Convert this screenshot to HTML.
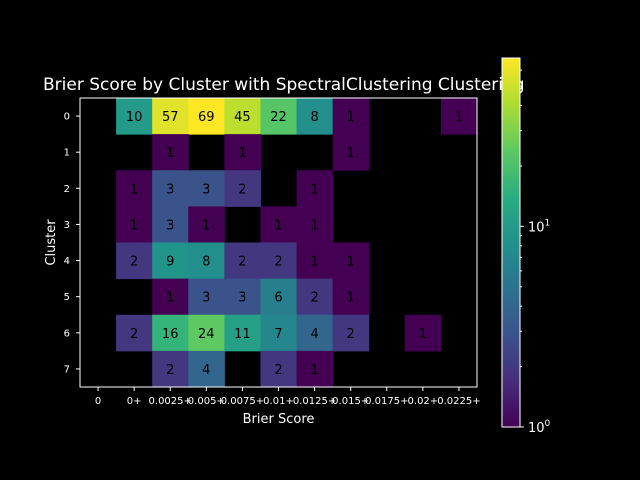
<!DOCTYPE html>
<html><head><meta charset="utf-8"><style>
html,body{margin:0;padding:0;background:#000;}
svg{display:block;font-family:"DejaVu Sans","Liberation Sans",sans-serif;}
</style></head><body>
<svg id="chart" width="640" height="480" viewBox="0 0 640 480">
<rect width="640" height="480" fill="#000"/>
<text x="43" y="90" fill="#fff" font-size="17">Brier Score by Cluster with SpectralClustering Clustering</text>
<g id="cells"></g>
<g id="xticks"></g>
<g id="yticks"></g>
<text x="278.5" y="423" fill="#fff" font-size="13" text-anchor="middle">Brier Score</text>
<text x="0" y="0" fill="#fff" font-size="13" text-anchor="middle" transform="translate(55,242.5) rotate(-90)">Cluster</text>
<g id="cbar"></g>
</svg>
<script>
const xLabels = ["0","0+","0.0025+","0.005+","0.0075+","0.01+","0.0125+","0.015+","0.0175+","0.02+","0.0225+"];
const yLabels = ["0","1","2","3","4","5","6","7"];
const row0 = [null,10,57,69,45,22,8,1,null,null,1];
const row1 = [null,null,1,null,1,null,null,1,null,null,null];
const row2 = [null,1,3,3,2,null,1,null,null,null,null];
const row3 = [null,1,3,1,null,1,1,null,null,null,null];
const row4 = [null,2,9,8,2,2,1,1,null,null,null];
const row5 = [null,null,1,3,3,6,2,1,null,null,null];
const row6 = [null,2,16,24,11,7,4,2,null,1,null];
const row7 = [null,null,2,4,null,2,1,null,null,null,null];
const counts = [row0,row1,row2,row3,row4,row5,row6,row7];
const vmin = 1, vmax = 69;

const NS="http://www.w3.org/2000/svg";
const X0=80,X1=477,Y0=98,Y1=387;
const cw=(X1-X0)/xLabels.length, ch=(Y1-Y0)/yLabels.length;
const xs=i=>X0+i*cw, ys=j=>Y0+j*ch;
const stops=["#440154","#472d7b","#3b528b","#2c728e","#21918c","#28ae80","#5ec962","#addc30","#fde725"];
function hex(h){return [1,3,5].map(k=>parseInt(h.substr(k,2),16));}
function viridis(t){t=Math.max(0,Math.min(1,t));const p=t*(stops.length-1);const i=Math.min(Math.floor(p),stops.length-2);const f=p-i;const a=hex(stops[i]),b=hex(stops[i+1]);return "rgb("+a.map((v,k)=>Math.round(v+(b[k]-v)*f)).join(",")+")";}
const norm=v=>Math.log(v/vmin)/Math.log(vmax/vmin);
function el(tag,attrs,parent,txt){const e=document.createElementNS(NS,tag);for(const k in attrs)e.setAttribute(k,attrs[k]);if(txt!==undefined)e.textContent=txt;parent.appendChild(e);return e;}

const cells=document.getElementById("cells");
el("rect",{x:X0,y:Y0,width:X1-X0,height:Y1-Y0,fill:"#000"},cells);
counts.forEach((row,j)=>row.forEach((v,i)=>{
  if(v===null)return;
  const r=el("rect",{x:xs(i),y:ys(j),width:cw+0.5,height:ch+0.5,fill:viridis(norm(v))},cells);
  
  
  const t=el("text",{x:xs(i)+cw/2,y:ys(j)+ch/2+5,"text-anchor":"middle","font-size":"13",fill:"#000"},cells,String(v));
  
  
}));
el("rect",{x:X0,y:Y0,width:X1-X0,height:Y1-Y0,fill:"none",stroke:"#fff","stroke-width":1},cells);

const xt=document.getElementById("xticks");
xLabels.forEach((l,i)=>{const c=xs(i)+cw/2;
  el("line",{x1:c,x2:c,y1:Y1,y2:Y1+4,stroke:"#fff"},xt);
  const t=el("text",{x:c,y:Y1+17,"text-anchor":"middle","font-size":"10",fill:"#fff"},xt,l);
  
  
});
const yt=document.getElementById("yticks");
yLabels.forEach((l,j)=>{const c=ys(j)+ch/2;
  el("line",{x1:X0-4,x2:X0,y1:c,y2:c,stroke:"#fff"},yt);
  const t=el("text",{x:X0-10,y:c+3.5,"text-anchor":"end","font-size":"10",fill:"#fff"},yt,l);
  
  
});

const cb=document.getElementById("cbar");
const CX0=502,CX1=520,CY0=58,CY1=427;
const defs=el("defs",{},cb);
const g=el("linearGradient",{id:"vg",x1:0,y1:1,x2:0,y2:0},defs);
stops.forEach((s,k)=>el("stop",{offset:k/(stops.length-1),"stop-color":s},g));
el("rect",{x:CX0,y:CY0,width:CX1-CX0,height:CY1-CY0,fill:"url(#vg)",stroke:"#fff","stroke-width":1},cb);
const cy=v=>CY1-norm(v)*(CY1-CY0);
[2,3,4,5,6,7,8,9,20,30,40,50,60].forEach(v=>el("line",{x1:CX1,x2:CX1+2,y1:cy(v),y2:cy(v),stroke:"#fff"},cb));
[[1,"0"],[10,"1"]].forEach(([v,e])=>{
  el("line",{x1:CX1,x2:CX1+4,y1:cy(v),y2:cy(v),stroke:"#fff"},cb);
  const t=el("text",{x:CX1+8,y:cy(v)+5,"font-size":"13",fill:"#fff"},cb,"10");
  
  
  el("tspan",{dy:-6,"font-size":"9"},t,e);
});
</script>
</body></html>
